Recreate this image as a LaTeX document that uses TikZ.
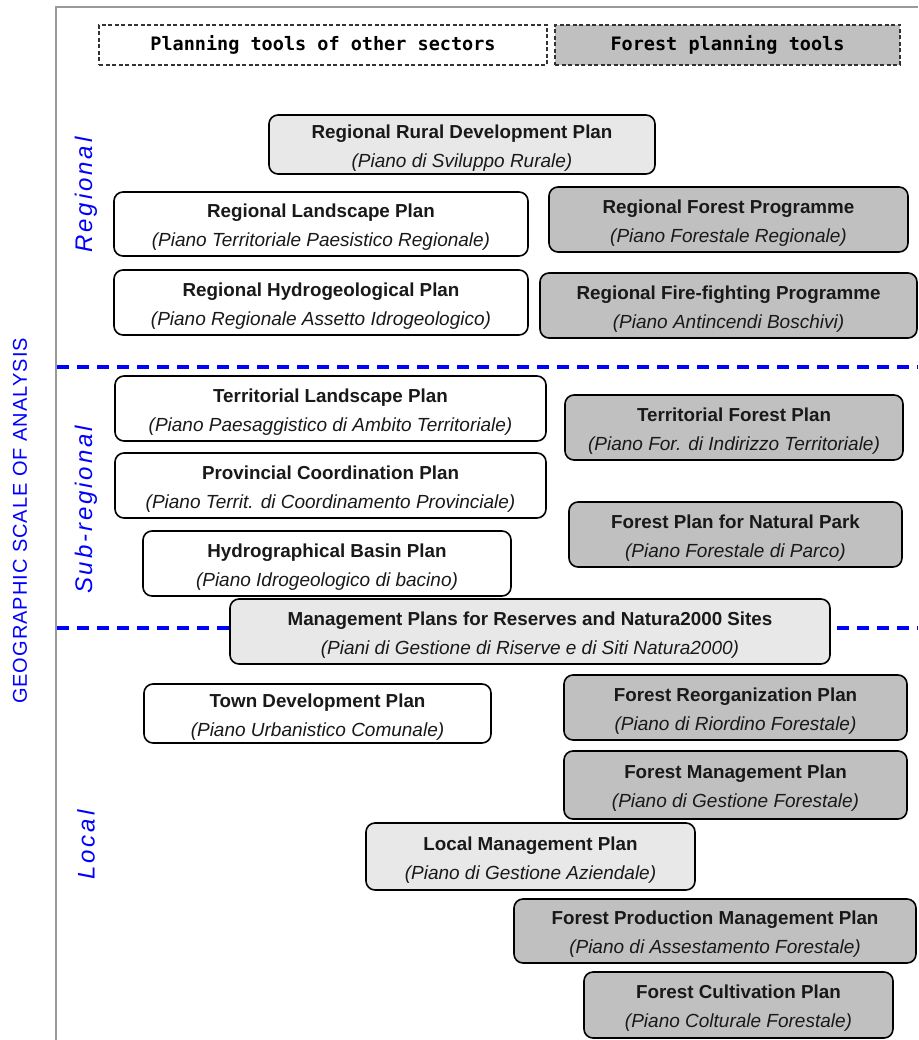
\documentclass[tikz,border=0pt]{standalone}
\usepackage{fontspec}
\setmainfont{Liberation Sans}
\newfontfamily\hdrfont{DejaVu Sans Mono}
\newfontfamily\sidefont[LetterSpace=12]{Liberation Sans}
\newfontfamily\geofont[LetterSpace=5]{Liberation Sans}
\definecolor{fgray}{HTML}{C0C0C0}
\definecolor{lgray}{HTML}{E8E8E8}
\definecolor{framegray}{HTML}{9A9A9A}
\definecolor{scaleblue}{HTML}{0000FF}
\tikzset{
  plan/.style={draw=black, line width=1.6pt, rounded corners=9pt, align=center,
    inner sep=0pt, font=\fontsize{18.8pt}{29pt}\selectfont, text=black!90},
  white plan/.style={plan, fill=white},
  light plan/.style={plan, fill=lgray},
  forest plan/.style={plan, fill=fgray},
  header/.style={draw=black!80, dashed, dash pattern=on 4pt off 2.5pt, line width=1.3pt,
    inner sep=0pt, font=\hdrfont\bfseries\fontsize{18.5pt}{20pt}\selectfont},
  levellabel/.style={rotate=90, text=scaleblue, font=\sidefont\itshape\fontsize{24pt}{26pt}\selectfont},
  scaleline/.style={draw=scaleblue, line width=4.5pt, dash pattern=on 12pt off 8pt},
}
\newcommand{\pl}[2]{\rule{0pt}{20pt}\textbf{#1}\\\fontsize{19pt}{29pt}\selectfont\textit{#2}}
\begin{document}
\begin{tikzpicture}[x=1pt,y=-1pt]
\useasboundingbox (0,0) rectangle (918,1040);
% frame
\coordinate (fTL) at (56,7);
\coordinate (fTR) at (918,7);
\coordinate (fBL) at (56,1040);
\draw[framegray, line width=2pt] (fTR) -- (fTL) -- (fBL);
% scale separators
\coordinate (s1a) at (57,367); \coordinate (s1b) at (918,367);
\coordinate (s2a) at (57,628); \coordinate (s2b) at (918,628);
\draw[scaleline] (s1a) -- (s1b);
\draw[scaleline] (s2a) -- (s2b);
% headers
\node[header, fill=white, minimum width=448pt, minimum height=40pt] (h1) at (323,45) {Planning tools of other sectors};
\node[header, fill=fgray, minimum width=345pt, minimum height=40pt] (h2) at (727.5,45) {Forest planning tools};
% side labels
\node[rotate=90, text=scaleblue, font=\geofont\fontsize{20pt}{22pt}\selectfont] (geo) at (20,521) {GEOGRAPHIC SCALE OF ANALYSIS};
\node[levellabel] (lreg) at (86,195) {Regional};
\node[levellabel] (lsub) at (86,510) {Sub-regional};
\node[levellabel] (lloc) at (86,845) {Local};
% regional
\node[light plan, minimum width=386pt, minimum height=59pt] (rrd) at (462,144.5) {\pl{Regional Rural Development Plan}{(Piano di Sviluppo Rurale)}};
\node[white plan, minimum width=414pt, minimum height=64pt] (rlp) at (321,224) {\pl{Regional Landscape Plan}{(Piano Territoriale Paesistico Regionale)}};
\node[white plan, minimum width=414pt, minimum height=65pt] (rhp) at (321,302.5) {\pl{Regional Hydrogeological Plan}{(Piano Regionale Assetto Idrogeologico)}};
\node[forest plan, minimum width=359pt, minimum height=65pt] (rfp) at (728.5,219.5) {\pl{Regional Forest Programme}{(Piano Forestale Regionale)}};
\node[forest plan, minimum width=377pt, minimum height=65pt] (rff) at (728.5,305.5) {\pl{Regional Fire-fighting Programme}{(Piano Antincendi Boschivi)}};
% sub-regional
\node[white plan, minimum width=431pt, minimum height=65pt] (tlp) at (330.5,408.5) {\pl{Territorial Landscape Plan}{(Piano Paesaggistico di Ambito Territoriale)}};
\node[white plan, minimum width=431pt, minimum height=65pt] (pcp) at (330.5,485.5) {\pl{Provincial Coordination Plan}{(Piano Territ. di Coordinamento Provinciale)}};
\node[white plan, minimum width=368pt, minimum height=65pt] (hbp) at (327,563.5) {\pl{Hydrographical Basin Plan}{(Piano Idrogeologico di bacino)}};
\node[forest plan, minimum width=338pt, minimum height=65pt] (tfp) at (734,427.5) {\pl{Territorial Forest Plan}{(Piano For. di Indirizzo Territoriale)}};
\node[forest plan, minimum width=333pt, minimum height=65pt] (fpn) at (735.5,534.5) {\pl{Forest Plan for Natural Park}{(Piano Forestale di Parco)}};
\node[light plan, minimum width=600pt, minimum height=65pt] (mpr) at (530,631.5) {\pl{Management Plans for Reserves and Natura2000 Sites}{(Piani di Gestione di Riserve e di Siti Natura2000)}};
% local
\node[white plan, minimum width=347pt, minimum height=59pt] (tdp) at (317.5,713.5) {\pl{Town Development Plan}{(Piano Urbanistico Comunale)}};
\node[forest plan, minimum width=343pt, minimum height=65pt] (frp) at (735.5,707.5) {\pl{Forest Reorganization Plan}{(Piano di Riordino Forestale)}};
\node[forest plan, minimum width=343pt, minimum height=68pt] (fmp) at (735.5,785) {\pl{Forest Management Plan}{(Piano di Gestione Forestale)}};
\node[light plan, minimum width=329pt, minimum height=67pt] (lmp) at (530.5,856.5) {\pl{Local Management Plan}{(Piano di Gestione Aziendale)}};
\node[forest plan, minimum width=402pt, minimum height=64pt] (fpm) at (715,931) {\pl{Forest Production Management Plan}{(Piano di Assestamento Forestale)}};
\node[forest plan, minimum width=309pt, minimum height=66pt] (fcp) at (738.5,1005) {\pl{Forest Cultivation Plan}{(Piano Colturale Forestale)}};
\end{tikzpicture}
\end{document}
